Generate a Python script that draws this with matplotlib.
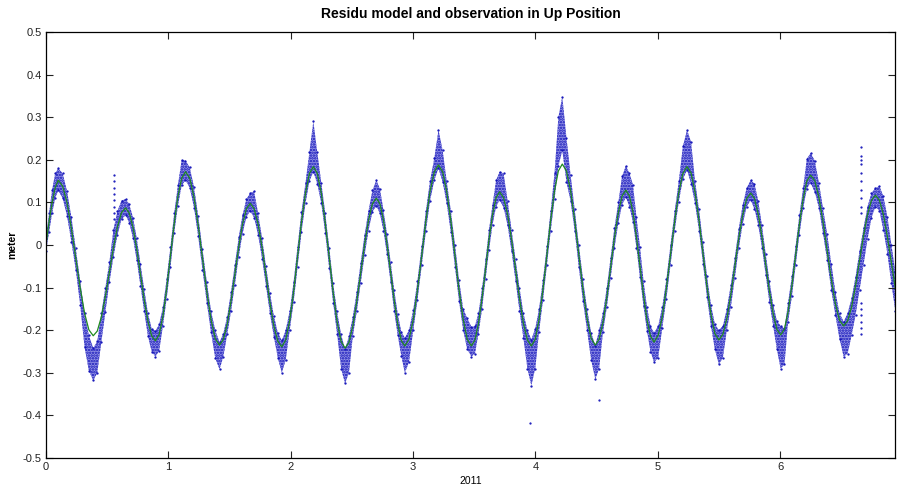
import matplotlib.pyplot as plt

# time in days of 2011, model (green) and observed band (blue) in meter
t_days = [0.000, 0.025, 0.050, 0.075,
          0.100, 0.136, 0.172, 0.207, 0.243, 0.279, 0.315, 0.350, 0.386,
          0.419, 0.452, 0.485, 0.518, 0.551, 0.584, 0.617, 0.650,
          0.6805, 0.711, 0.7415, 0.772, 0.8025, 0.833, 0.8635, 0.894,
          0.925, 0.9555, 0.986, 1.017, 1.0475, 1.078, 1.109, 1.140,
          1.175, 1.2095, 1.244, 1.279, 1.314, 1.3485, 1.383, 1.418,
          1.449, 1.481, 1.512, 1.5435, 1.575, 1.606, 1.638, 1.669,
          1.701, 1.7335, 1.766, 1.798, 1.830, 1.862, 1.895, 1.927,
          1.959, 1.992, 2.024, 2.056, 2.088, 2.121, 2.153, 2.185,
          2.217, 2.250, 2.282, 2.315, 2.347, 2.379, 2.412, 2.444,
          2.476, 2.508, 2.540, 2.572, 2.604, 2.636, 2.668, 2.700,
          2.729, 2.758, 2.787, 2.817, 2.846, 2.875, 2.904, 2.933,
          2.967, 3.002, 3.036, 3.071, 3.105, 3.139, 3.174, 3.208,
          3.242, 3.275, 3.309, 3.343, 3.376, 3.410, 3.443, 3.477,
          3.506, 3.535, 3.564, 3.593, 3.621, 3.650, 3.679, 3.708,
          3.740, 3.773, 3.805, 3.838, 3.870, 3.902, 3.935, 3.967,
          3.999, 4.030, 4.062, 4.094, 4.125, 4.157, 4.188, 4.220,
          4.254, 4.2875, 4.321, 4.355, 4.389, 4.4225, 4.456, 4.490,
          4.521, 4.5525, 4.584, 4.615, 4.646, 4.678, 4.709, 4.740,
          4.769, 4.7975, 4.826, 4.855, 4.884, 4.9125, 4.941, 4.970,
          5.004, 5.0375, 5.071, 5.105, 5.139, 5.1725, 5.206, 5.240,
          5.2725, 5.305, 5.3375, 5.370, 5.4025, 5.435, 5.4675, 5.500,
          5.5325, 5.565, 5.5975, 5.630, 5.6625, 5.695, 5.7275, 5.760,
          5.791, 5.821, 5.852, 5.8825, 5.913, 5.944, 5.974, 6.005,
          6.036, 6.066, 6.097, 6.1275, 6.158, 6.189, 6.219, 6.250,
          6.284, 6.3175, 6.351, 6.385, 6.419, 6.4525, 6.486, 6.520,
          6.5525, 6.585, 6.6175, 6.650, 6.6825, 6.715, 6.7475, 6.780,
          6.8125, 6.845, 6.8775, 6.910, 6.9425]

model = [0.002, 0.055, 0.100, 0.135,
         0.152, 0.138, 0.099, 0.039, -0.031, -0.100, -0.160, -0.199, -0.213,
         -0.202, -0.169, -0.121, -0.063, -0.006, 0.043, 0.076, 0.087,
         0.075, 0.041, -0.009, -0.069, -0.129, -0.179, -0.213, -0.225,
         -0.210, -0.167, -0.103, -0.027, 0.050, 0.114, 0.157, 0.172,
         0.157, 0.112, 0.046, -0.032, -0.109, -0.175, -0.220, -0.235,
         -0.222, -0.186, -0.132, -0.069, -0.005, 0.049, 0.085, 0.098,
         0.085, 0.049, -0.006, -0.071, -0.135, -0.190, -0.226, -0.239,
         -0.223, -0.177, -0.109, -0.028, 0.054, 0.122, 0.168, 0.184,
         0.168, 0.122, 0.053, -0.029, -0.111, -0.180, -0.226, -0.242,
         -0.229, -0.190, -0.133, -0.066, 0.001, 0.058, 0.097, 0.110,
         0.097, 0.059, 0.003, -0.064, -0.130, -0.186, -0.224, -0.237,
         -0.221, -0.175, -0.106, -0.025, 0.057, 0.126, 0.172, 0.188,
         0.172, 0.126, 0.057, -0.025, -0.106, -0.175, -0.221, -0.237,
         -0.223, -0.184, -0.125, -0.056, 0.013, 0.072, 0.111, 0.125,
         0.111, 0.072, 0.013, -0.056, -0.125, -0.184, -0.223, -0.237,
         -0.221, -0.175, -0.105, -0.024, 0.058, 0.128, 0.174, 0.190,
         0.174, 0.128, 0.059, -0.023, -0.104, -0.173, -0.219, -0.235,
         -0.221, -0.182, -0.123, -0.053, 0.017, 0.076, 0.115, 0.129,
         0.115, 0.077, 0.019, -0.050, -0.118, -0.176, -0.214, -0.228,
         -0.212, -0.168, -0.101, -0.022, 0.057, 0.124, 0.168, 0.184,
         0.169, 0.124, 0.058, -0.020, -0.097, -0.163, -0.208, -0.223,
         -0.210, -0.173, -0.117, -0.051, 0.016, 0.071, 0.109, 0.122,
         0.109, 0.073, 0.019, -0.045, -0.108, -0.162, -0.198, -0.211,
         -0.197, -0.156, -0.095, -0.024, 0.048, 0.109, 0.150, 0.164,
         0.151, 0.112, 0.055, -0.013, -0.081, -0.138, -0.177, -0.190,
         -0.178, -0.145, -0.095, -0.037, 0.022, 0.072, 0.105, 0.117,
         0.105, 0.071, 0.019, -0.042, -0.102]

obs_lo = [-0.015, 0.030, 0.075, 0.110,
          0.128, 0.110, 0.068, 0.008, -0.058, -0.140, -0.240, -0.295, -0.318,
          -0.300, -0.228, -0.158, -0.088, -0.028, 0.024, 0.060, 0.070,
          0.052, 0.016, -0.036, -0.096, -0.156, -0.214, -0.250, -0.262,
          -0.248, -0.190, -0.126, -0.052, 0.028, 0.092, 0.140, 0.152,
          0.134, 0.088, 0.020, -0.058, -0.135, -0.205, -0.265, -0.292,
          -0.262, -0.210, -0.156, -0.094, -0.028, 0.026, 0.066, 0.080,
          0.064, 0.024, -0.032, -0.096, -0.160, -0.215, -0.265, -0.300,
          -0.270, -0.200, -0.134, -0.052, 0.030, 0.098, 0.150, 0.172,
          0.144, 0.098, 0.028, -0.055, -0.136, -0.208, -0.290, -0.325,
          -0.300, -0.214, -0.156, -0.090, -0.024, 0.034, 0.078, 0.092,
          0.074, 0.034, -0.022, -0.088, -0.156, -0.212, -0.260, -0.300,
          -0.275, -0.200, -0.130, -0.048, 0.032, 0.104, 0.152, 0.180,
          0.148, 0.098, 0.030, -0.052, -0.132, -0.200, -0.245, -0.262,
          -0.255, -0.208, -0.150, -0.080, -0.012, 0.048, 0.090, 0.106,
          0.088, 0.046, -0.014, -0.084, -0.154, -0.218, -0.290, -0.330,
          -0.290, -0.204, -0.130, -0.048, 0.032, 0.108, 0.185, 0.222,
          0.148, 0.104, 0.034, -0.052, -0.132, -0.200, -0.270, -0.315,
          -0.290, -0.205, -0.146, -0.078, -0.008, 0.052, 0.095, 0.112,
          0.090, 0.054, -0.006, -0.076, -0.144, -0.202, -0.250, -0.275,
          -0.265, -0.194, -0.126, -0.046, 0.034, 0.102, 0.155, 0.176,
          0.144, 0.098, 0.034, -0.044, -0.122, -0.190, -0.245, -0.280,
          -0.265, -0.200, -0.146, -0.078, -0.008, 0.050, 0.090, 0.106,
          0.084, 0.048, -0.006, -0.070, -0.134, -0.190, -0.245, -0.290,
          -0.280, -0.180, -0.120, -0.048, 0.024, 0.086, 0.132, 0.146,
          0.124, 0.088, 0.028, -0.036, -0.106, -0.165, -0.220, -0.262,
          -0.255, -0.212, -0.164, -0.105, -0.046, 0.014, 0.064, 0.090,
          0.080, 0.035, -0.020, -0.090, -0.155]

obs_hi = [0.020, 0.075, 0.130, 0.168,
          0.180, 0.168, 0.126, 0.066, -0.008, -0.084, -0.160, -0.212, -0.242,
          -0.226, -0.160, -0.100, -0.040, 0.036, 0.080, 0.104, 0.108,
          0.096, 0.064, 0.016, -0.044, -0.104, -0.160, -0.196, -0.202,
          -0.186, -0.146, -0.080, -0.004, 0.074, 0.140, 0.200, 0.198,
          0.182, 0.136, 0.068, -0.010, -0.086, -0.154, -0.200, -0.228,
          -0.208, -0.168, -0.110, -0.046, 0.018, 0.070, 0.108, 0.122,
          0.126, 0.074, 0.016, -0.050, -0.112, -0.166, -0.206, -0.224,
          -0.200, -0.155, -0.086, -0.004, 0.078, 0.146, 0.218, 0.290,
          0.218, 0.146, 0.076, -0.006, -0.090, -0.156, -0.210, -0.245,
          -0.214, -0.168, -0.110, -0.042, 0.024, 0.080, 0.128, 0.152,
          0.132, 0.082, 0.026, -0.040, -0.106, -0.162, -0.204, -0.218,
          -0.200, -0.152, -0.084, -0.002, 0.080, 0.150, 0.204, 0.270,
          0.222, 0.150, 0.080, 0.001, -0.082, -0.150, -0.172, -0.192,
          -0.190, -0.160, -0.102, -0.034, 0.036, 0.095, 0.152, 0.172,
          0.168, 0.104, 0.036, -0.034, -0.100, -0.160, -0.200, -0.222,
          -0.196, -0.150, -0.082, -0.002, 0.080, 0.170, 0.300, 0.348,
          0.252, 0.165, 0.084, 0.001, -0.080, -0.150, -0.206, -0.236,
          -0.200, -0.160, -0.100, -0.030, 0.040, 0.100, 0.162, 0.186,
          0.168, 0.142, 0.066, -0.004, -0.084, -0.146, -0.190, -0.206,
          -0.190, -0.145, -0.080, 0.001, 0.080, 0.150, 0.232, 0.270,
          0.242, 0.150, 0.084, 0.006, -0.072, -0.140, -0.186, -0.200,
          -0.190, -0.150, -0.094, -0.030, 0.038, 0.095, 0.134, 0.152,
          0.144, 0.104, 0.046, -0.020, -0.084, -0.140, -0.178, -0.190,
          -0.196, -0.135, -0.072, -0.002, 0.070, 0.134, 0.202, 0.216,
          0.198, 0.146, 0.086, 0.026, -0.044, -0.110, -0.160, -0.180,
          -0.160, -0.125, -0.074, -0.014, 0.040, 0.090, 0.122, 0.134,
          0.138, 0.114, 0.066, 0.001, -0.064]

# isolated observation dots away from the main band
out_t = [0.552, 0.552, 0.552, 0.552, 0.552, 0.552, 0.552, 0.552,
         6.665, 6.665, 6.665, 6.665, 6.665, 6.665, 6.665, 6.665, 6.665, 6.665,
         6.665, 6.665, 6.665, 6.665, 6.665, 6.665,
         3.960, 4.520]
out_y = [0.165, 0.150, 0.135, 0.120, 0.105, 0.090, 0.075, 0.060,
         0.230, 0.210, 0.190, 0.170, 0.150, 0.130, 0.110, 0.090,
         -0.135, -0.150, -0.165, -0.180, -0.195, -0.210, 0.075, 0.200,
         -0.418, -0.364]

x_ticks = [0, 1, 2, 3, 4, 5, 6]
y_ticks = [-0.5, -0.4, -0.3, -0.2, -0.1, 0, 0.1, 0.2, 0.3, 0.4, 0.5]

plt.rcParams['font.family'] = ['Liberation Sans', 'DejaVu Sans']
plt.rcParams['hatch.linewidth'] = 1.2

fig = plt.figure(figsize=(8.99, 4.91), dpi=100)
ax = fig.add_axes([0.0512, 0.0672, 0.9444, 0.8676])

blue = '#1010b8'
ax.fill_between(t_days, obs_lo, obs_hi, facecolor='#3a3ad0', alpha=0.55, linewidth=0)
ax.fill_between(t_days, obs_lo, obs_hi, facecolor='none', edgecolor=blue,
                hatch='......', linewidth=0)
ax.plot(t_days, obs_lo, '.', ms=1.3, color=blue)
ax.plot(t_days, obs_hi, '.', ms=1.3, color=blue)
ax.plot(out_t, out_y, '.', ms=1.2, color=blue)
ax.plot(t_days, model, color='#1f8a1f', lw=0.9)

ax.set_xlim(0, 6.94)
ax.set_ylim(-0.5, 0.5)
ax.set_xticks(x_ticks)
ax.set_yticks(y_ticks)
ax.set_yticklabels(['-0.5', '-0.4', '-0.3', '-0.2', '-0.1', '0',
                    '0.1', '0.2', '0.3', '0.4', '0.5'])
ax.tick_params(direction='in', top=True, right=True, length=5, width=0.8,
               labelsize=8, colors='#222222', pad=3)
for s in ax.spines.values():
    s.set_linewidth(0.9)

ax.set_title('Residu model and observation in Up Position', fontsize=10,
             fontweight='bold', pad=10)
ax.set_xlabel('2011', fontsize=7.5, labelpad=3)
ax.set_ylabel('meter', fontsize=7.5, fontweight='bold', labelpad=4)

fig.savefig('out.png', dpi=100, facecolor='white')
